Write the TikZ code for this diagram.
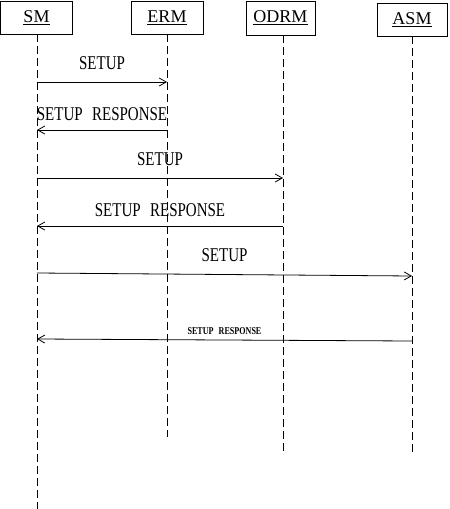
\documentclass[tikz,border=0pt]{standalone}
\usepackage{fontspec}
\setmainfont{Liberation Serif}
\newfontfamily\msgfont[FakeStretch=0.77,WordSpace=2.5]{Liberation Serif}
\usetikzlibrary{arrows.meta,positioning}
\tikzset{
    lifebox/.style={% participant box
        draw, line width=0.8pt, rectangle, inner sep=0pt,
        minimum width=#1, minimum height=33pt,
        font=\fontsize{18}{18}\selectfont},
    lifeline/.style={% dashed time line
        draw, line width=0.8pt, dash pattern=on 8pt off 4pt},
    msg/.style={% message arrow
        draw, line width=0.8pt, ->},
    msg label/.style={font=\msgfont\fontsize{19.5}{20}\selectfont},
    small label/.style={font=\msgfont\bfseries\fontsize{10.5}{11}\selectfont}}

\begin{document}
\begin{tikzpicture}[x=1pt,y=-1pt,>={Straight Barb[length=7pt,width=8pt]}]
\useasboundingbox (0,0) rectangle (450,509);
% participants
\node[lifebox=72pt] (sm) at (36.5,17.5) {\underline{SM}};
\node[lifebox=72pt] (erm) at (167,17.5) {\underline{ERM}};
\node[lifebox=69pt, minimum height=34pt] (odrm) at (280.5,18) {\underline{ODRM}};
\node[lifebox=70pt] (asm) at (412,19.5) {\underline{ASM}};
% lifelines
\coordinate (sm end) at (37,509);
\coordinate (erm end) at (167,437);
\coordinate (odrm end) at (283,451);
\coordinate (asm end) at (412,453);
\draw[lifeline] (sm.south -| sm end) -- (sm end);
\draw[lifeline] (erm.south -| erm end) -- (erm end);
\draw[lifeline] (odrm.south -| odrm end) -- (odrm end);
\draw[lifeline] (asm.south -| asm end) -- (asm end);
% messages
\coordinate (sm1) at (37,82);   \coordinate (erm1) at (167,82);
\coordinate (sm2) at (37,130);  \coordinate (erm2) at (167,130);
\coordinate (sm3) at (37,178);  \coordinate (odrm3) at (283,178);
\coordinate (sm4) at (37,226);  \coordinate (odrm4) at (283,226);
\coordinate (sm5) at (37,273);  \coordinate (asm5) at (412,276);
\coordinate (sm6) at (37,339);  \coordinate (asm6) at (412,341);
\draw[msg] (sm1) -- node[msg label, yshift=19pt] {SETUP} (erm1);
\draw[msg] (erm2) -- node[msg label, yshift=16pt] {SETUP RESPONSE} (sm2);
\draw[msg] (sm3) -- node[msg label, yshift=19pt] {SETUP} (odrm3);
\draw[msg] (odrm4) -- node[msg label, yshift=16pt] {SETUP RESPONSE} (sm4);
\draw[msg] (sm5) -- node[msg label, yshift=19pt] {SETUP} (asm5);
\draw[msg] (asm6) -- node[small label, yshift=9pt] {SETUP RESPONSE} (sm6);
\end{tikzpicture}
\end{document}
